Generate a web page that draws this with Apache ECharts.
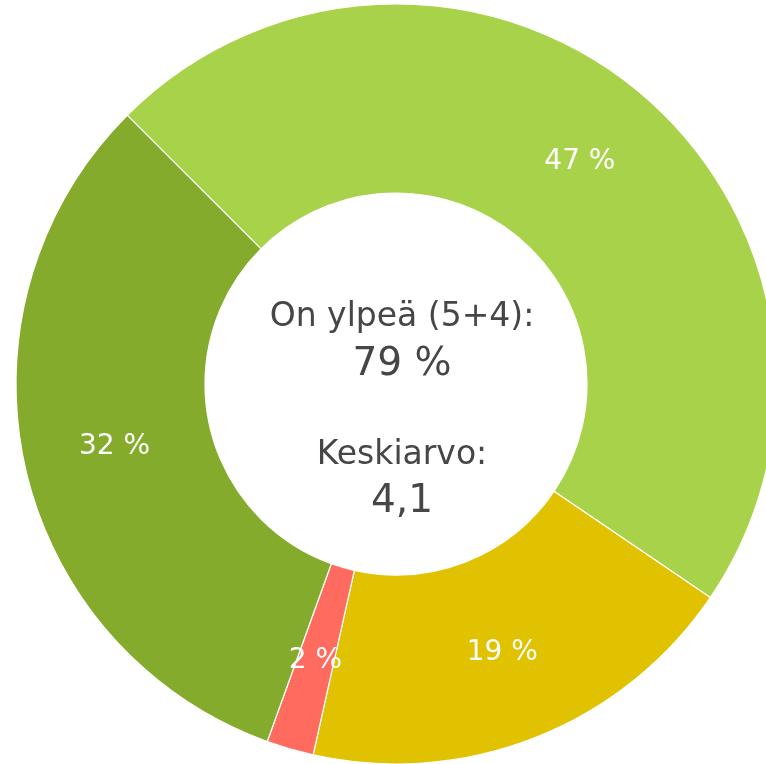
<!DOCTYPE html>
<html lang="fi">
<head>
    <meta charset="UTF-8">
    <title>On ylpeä</title>
    <script src="https://cdn.jsdelivr.net/npm/echarts@6/dist/echarts.min.js"></script>
    <style>
        html, body { margin: 0; padding: 0; background: #fff; }
        #main { width: 766px; height: 764px; }
    </style>
</head>
<body>
    <div id="main"></div>
    <script type="text/javascript">
        // vastaukset myötäpäivään, alkaen vasemmasta yläkulmasta
        var categories = ['4', '3', '2', '5'];
        var values = [47, 19, 2, 32];
        var colors = ['#a9d24b', '#e0c200', '#ff6b5f', '#84ab2b'];

        var centerLines = ['On ylpeä (5+4):', '79 %', 'Keskiarvo:', '4,1'];

        var fontFamily = '"DejaVu Sans", sans-serif';

        var myChart = echarts.init(document.getElementById('main'));

        var pieData = categories.map(function (c, i) {
            return { name: c, value: values[i], itemStyle: { color: colors[i] } };
        });

        function centerText(txt, y, size) {
            return {
                type: 'text',
                x: 402,
                y: y,
                style: {
                    text: txt,
                    fontFamily: fontFamily,
                    fontSize: size,
                    fill: '#464646',
                    textAlign: 'center',
                    textVerticalAlign: 'bottom'
                }
            };
        }

        var option = {
            animation: false,
            series: [{
                type: 'pie',
                center: [396, 384],
                radius: [191, 380],
                startAngle: 135,
                clockwise: true,
                avoidLabelOverlap: false,
                itemStyle: { borderColor: '#fff', borderWidth: 1.2 },
                label: {
                    position: 'inside',
                    color: '#fff',
                    fontFamily: fontFamily,
                    fontSize: 28,
                    formatter: function (p) { return p.value + ' %'; }
                },
                labelLine: { show: false },
                data: pieData
            }],
            graphic: [
                centerText(centerLines[0], 334, 33),
                centerText(centerLines[1], 384, 39),
                centerText(centerLines[2], 472, 33),
                centerText(centerLines[3], 521, 39)
            ]
        };

        myChart.setOption(option);
    </script>
</body>
</html>
